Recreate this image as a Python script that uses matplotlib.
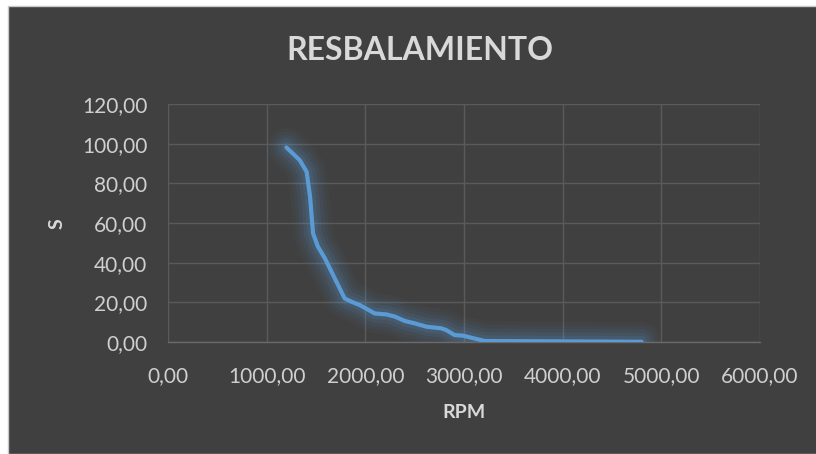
import matplotlib
matplotlib.use("Agg")
import matplotlib.pyplot as plt
from matplotlib.patches import Rectangle
from matplotlib.ticker import FuncFormatter, MultipleLocator

# Slip (S) versus shaft speed (RPM)
rpm = [1200, 1335, 1405, 1440, 1470, 1520, 1590, 1790, 1860, 1945, 2095,
       2215, 2300, 2400, 2500, 2620, 2770, 2820, 2905, 2990, 3095, 3210,
       3600, 4000, 4400, 4800]
slip = [98.1, 91.7, 85.8, 73.2, 54.8, 48.0, 42.2, 22.0, 20.3, 18.6, 14.4,
        13.9, 12.8, 10.6, 9.4, 7.7, 6.9, 6.0, 3.5, 3.2, 1.9, 0.5,
        0.4, 0.3, 0.2, 0.1]

title = "RESBALAMIENTO"
xlabel = "RPM"
ylabel = "S"

BG = "#404040"
LINE = "#5B9BD5"
TXT = "#D9D9D9"
TICK = "#CFCFCF"
GRID = "#5A5A5A"

plt.rcParams['font.family'] = ['Lato', 'DejaVu Sans']

fig = plt.figure(figsize=(8.16, 4.54), dpi=100, facecolor="white")
# dark chart panel with thin light edge
fig.patches.append(Rectangle((8 / 816, 0), 1, 1 - 6 / 454, transform=fig.transFigure,
                             facecolor=BG, edgecolor="#C8C8C8", linewidth=1.0, zorder=-5))

ax = fig.add_axes([168 / 816, 1 - 342 / 454, 592 / 816, 238 / 454])
ax.set_zorder(2)
ax.set_facecolor("none")

ax.set_xlim(0, 6000)
ax.set_ylim(0, 120)
ax.xaxis.set_major_locator(MultipleLocator(1000))
ax.yaxis.set_major_locator(MultipleLocator(20))
fmt = FuncFormatter(lambda v, p: f"{v:.2f}".replace(".", ","))
ax.xaxis.set_major_formatter(fmt)
ax.yaxis.set_major_formatter(fmt)

ax.grid(True, color=GRID, linewidth=1.0)
ax.set_axisbelow(True)
for s in ["top", "right", "left"]:
    ax.spines[s].set_visible(False)
ax.spines["bottom"].set_color("#6A6A6A")
ax.spines["bottom"].set_linewidth(1.0)
ax.tick_params(length=0, colors=TICK, labelsize=15)
ax.tick_params(axis="y", pad=15)
ax.tick_params(axis="x", pad=17)

# soft glow beneath the curve
for w, a in [(28, 0.04), (23, 0.05), (18, 0.07), (13, 0.09), (8, 0.12)]:
    ax.plot(rpm, slip, color=LINE, linewidth=w, alpha=a,
            solid_capstyle="round", solid_joinstyle="round", zorder=2)
ax.plot(rpm, slip, color=LINE, linewidth=3.0,
        solid_capstyle="round", solid_joinstyle="round", zorder=3)

fig.text(420 / 816, 1 - 51 / 454, title, ha="center", va="center",
         fontsize=23, fontweight="bold", color=TXT)
fig.text(464 / 816, 1 - 413 / 454, xlabel, ha="center", va="center",
         fontsize=14, fontweight="bold", color=TXT)
fig.text(57 / 816, 1 - 224 / 454, ylabel, ha="center", va="center",
         fontsize=14, fontweight="bold", color=TXT, rotation=90)

fig.savefig("out.png", dpi=100, facecolor=fig.get_facecolor())
